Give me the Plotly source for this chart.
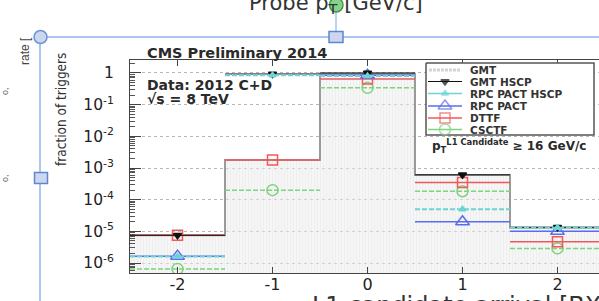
import plotly.graph_objects as go

W, H = 599, 301

# ---------------- data ----------------
bx = [-2, -1, 0, 1, 2]
bin_half = 0.5
gmt = [7.5e-6, 1.8e-3, 0.95, 6.0e-4, 1.3e-5]
gmt_hscp = [7.5e-6, 0.93, 1.0, 6.1e-4, 1.35e-5]
rpc_pact_hscp = [1.6e-6, 0.85, 0.8, 5.0e-5, 1.3e-5]
rpc_pact = [1.65e-6, None, 0.85, 2.0e-5, 1.0e-5]
dttf = [7.5e-6, 1.8e-3, 0.65, 3.5e-4, 4.7e-6]
csctf = [6.5e-7, 2.0e-4, 0.34, 1.85e-4, 2.9e-6]

xtick_vals = [-2, -1, 0, 1, 2]
xtick_text = ["-2", "-1", "0", "1", "2"]
ytick_vals = [1, 1e-1, 1e-2, 1e-3, 1e-4, 1e-5, 1e-6]
ytick_text = ["1", "10<sup>-1</sup>", "10<sup>-2</sup>", "10<sup>-3</sup>",
              "10<sup>-4</sup>", "10<sup>-5</sup>", "10<sup>-6</sup>"]
minor_vals = [m * 10.0 ** e for e in range(-7, 1) for m in range(2, 10)]

legend_names = ["GMT", "GMT HSCP", "RPC PACT HSCP", "RPC PACT", "DTTF", "CSCTF"]

# ---------------- styles ----------------
RED = "#ee5a5a"
BLUE = "#5a6cf0"
GREEN = "#7ed47e"
CYAN = "#6cd4d4"
BLACK = "#111111"
GRAY = "#9a9a9a"

series = [
    # name, values, color, symbol, size, dash, width
    ("CSCTF", csctf, GREEN, "circle-open", 11, "5px,2px", 1.5),
    ("DTTF", dttf, RED, "square-open", 10, "solid", 1.5),
    ("RPC PACT", rpc_pact, BLUE, "triangle-up-open", 12, "solid", 1.5),
    ("GMT HSCP", gmt_hscp, BLACK, "triangle-down", 7, "solid", 1),
    ("RPC PACT HSCP", rpc_pact_hscp, CYAN, "triangle-up", 6, "5px,2px", 2),
]

fig = go.Figure()

# GMT filled histogram
fig.add_trace(go.Bar(
    x=bx, y=gmt, width=2 * bin_half, xaxis="x", yaxis="y",
    marker=dict(color="rgba(228,228,228,0.55)", line=dict(width=0),
                pattern=dict(shape="|", size=3, solidity=0.15,
                             fgcolor="rgba(195,195,195,0.7)",
                             bgcolor="rgba(238,238,238,0.5)", fillmode="overlay")),
    showlegend=False, hoverinfo="skip"))
edges = [c - bin_half for c in bx] + [bx[-1] + bin_half]
fig.add_trace(go.Scatter(
    x=edges, y=gmt + [gmt[-1]], mode="lines", line=dict(color=GRAY, width=2, shape="hv"),
    xaxis="x", yaxis="y", showlegend=False, hoverinfo="skip"))

for name, vals, col, sym, size, dash, lw in series:
    sx, sy = [], []
    mx, my = [], []
    for c, v in zip(bx, vals):
        if v is None:
            continue
        sx += [c - bin_half, c + bin_half, None]
        sy += [v, v, None]
        mx.append(c)
        my.append(v)
    fig.add_trace(go.Scatter(x=sx, y=sy, mode="lines", line=dict(color=col, width=lw, dash=dash),
                             xaxis="x", yaxis="y", showlegend=False, hoverinfo="skip"))
    fig.add_trace(go.Scatter(x=mx, y=my, mode="markers",
                             marker=dict(symbol=sym, size=size, color=col,
                                         line=dict(color=col, width=1.5)),
                             xaxis="x", yaxis="y", showlegend=False, hoverinfo="skip"))

# ---------------- legend box (overlay pixel axes) ----------------
fig.add_trace(go.Scatter(x=[426, 594, 594, 426, 426], y=[63, 63, 135, 135, 63],
                         mode="lines", fill="toself", fillcolor="white",
                         line=dict(color="#555", width=1.5),
                         xaxis="x2", yaxis="y2", showlegend=False, hoverinfo="skip"))
rows = [70, 81.5, 93.5, 106, 118, 129.5]
leg_style = {
    "GMT HSCP": (BLACK, "triangle-down", 7, "solid", 1),
    "RPC PACT HSCP": (CYAN, "triangle-up", 6, "solid", 1.5),
    "RPC PACT": (BLUE, "triangle-up-open", 12, "solid", 1.5),
    "DTTF": (RED, "square-open", 10, "solid", 1.5),
    "CSCTF": (GREEN, "circle-open", 11, "solid", 1.5),
}
for name, ry in zip(legend_names, rows):
    if name == "GMT":
        fig.add_trace(go.Scatter(x=[429, 461], y=[ry, ry], mode="lines",
                                 line=dict(color="#d4d4d4", width=3, dash="3px,1px"),
                                 xaxis="x2", yaxis="y2", showlegend=False, hoverinfo="skip"))
        continue
    col, sym, size, dash, lw = leg_style[name]
    fig.add_trace(go.Scatter(x=[428, 445, 462], y=[ry, ry, ry], mode="lines+markers",
                             line=dict(color=col, width=lw),
                             marker=dict(symbol=sym, size=[0, size, 0], color=col,
                                         line=dict(color=col, width=1.5)),
                             xaxis="x2", yaxis="y2", showlegend=False, hoverinfo="skip"))

ann = []
for name, ry in zip(legend_names, rows):
    ann.append(dict(x=468, y=ry, text="<b>%s</b>" % name, xanchor="left", yanchor="middle",
                    font=dict(family="DejaVu Sans", size=10.5, color="#333")))

def txt(x, y, t, size, family="DejaVu Sans", color="#333", xa="left", angle=0, ya="middle"):
    return dict(x=x, y=y, text=t, xanchor=xa, yanchor=ya, textangle=angle,
                font=dict(family=family, size=size, color=color))

ann += [
    txt(145, 53, "<b>CMS Preliminary 2014</b>", 14.5, color="#2a2a2a"),
    txt(145, 85, "<b>Data: 2012 C+D</b>", 14, color="#2a2a2a"),
    txt(145, 99, "<b>√s = 8 TeV</b>", 14, color="#2a2a2a"),
    txt(430, 146, "<b>p<sub>T</sub><sup>L1 Candidate</sup> ≥ 16 GeV/c</b>", 12, color="#2a2a2a"),
    txt(61, 110, "fraction of triggers", 13.5,
        family="Liberation Sans Narrow, DejaVu Sans Condensed, Liberation Sans",
        color="#333", xa="center", angle=-90),
    txt(25, 51, "rate [", 12, family="Liberation Sans", color="#444", xa="center", angle=-90),
    txt(247, 4, "Probe p<sub>T</sub> [GeV/c]", 21, color="#333"),
    txt(310, 290, "L1 candidate arrival [BX]", 24, color="#333", ya="top"),
    txt(5, 91, "o,", 9, family="Liberation Sans", color="#666", xa="center", angle=-90),
    txt(5, 178, "o,", 9, family="Liberation Sans", color="#666", xa="center", angle=-90),
]
for a in ann:
    a.update(xref="x2", yref="y2", showarrow=False)

# ---------------- editor overlay handles ----------------
HB = "#8fb3ee"
shapes = [
    dict(type="line", x0=40, x1=W, y0=37, y1=37, line=dict(color=HB, width=1.5)),
    dict(type="line", x0=40, x1=40, y0=37, y1=H, line=dict(color=HB, width=1.5)),
    dict(type="line", x0=336, x1=336, y0=8, y1=37, line=dict(color="#7fa3df", width=1)),
    dict(type="circle", x0=34, x1=47, y0=30.5, y1=43.5, fillcolor="#cad7ee",
         line=dict(color="#6d93d6", width=1.5)),
    dict(type="rect", x0=34.5, x1=47.5, y0=172.5, y1=183.5, fillcolor="#cad7ee",
         line=dict(color="#5f86cf", width=1.5)),
    dict(type="rect", x0=329, x1=343, y0=31.5, y1=42.5, fillcolor="#cad7ee",
         line=dict(color="#5f86cf", width=1.5)),
    dict(type="circle", x0=329.5, x1=343, y0=-2, y1=12, fillcolor="#86d28c",
         line=dict(color="#3f9a4a", width=1.5)),
]
for s in shapes:
    s.update(xref="x2", yref="y2", layer="above")

fig.update_layout(
    width=W, height=H, margin=dict(l=0, r=0, t=0, b=0),
    paper_bgcolor="white", plot_bgcolor="rgba(0,0,0,0)",
    showlegend=False, bargap=0,
    xaxis=dict(domain=[130 / W, 1], range=[-2.5, -2.5 + (W - 130) / 95.0], anchor="y",
               tickvals=xtick_vals, ticktext=xtick_text, ticks="inside", ticklen=6,
               tickcolor="#444", showline=True, linecolor="#444", linewidth=1,
               mirror="ticks", showgrid=False, zeroline=False, automargin=False,
               ticklabelstandoff=-3,
               tickfont=dict(family="DejaVu Sans", size=16, color="#222")),
    yaxis=dict(type="log", domain=[1 - 273 / H, 1 - 60 / H], range=[-6.315, 0.41], anchor="x",
               tickvals=ytick_vals, ticktext=ytick_text, ticks="inside", ticklen=11,
               tickcolor="#444", showline=True, linecolor="#444", linewidth=1,
               mirror=False, showgrid=True, gridcolor="#b8b8b8", griddash="3px,3px",
               gridwidth=1, zeroline=False, automargin=False, ticklabelstandoff=12,
               minor=dict(tickmode="array", tickvals=minor_vals, ticks="inside", ticklen=5,
                          tickcolor="#555", showgrid=False),
               tickfont=dict(family="DejaVu Sans", size=15.5, color="#222")),
    xaxis2=dict(domain=[0, 1], range=[0, W], anchor="y2", visible=False, fixedrange=True),
    yaxis2=dict(domain=[0, 1], range=[H, 0], anchor="x2", visible=False, fixedrange=True),
    annotations=ann, shapes=shapes,
)

fig.write_html("out.html", config={"displayModeBar": False, "staticPlot": True},
               post_script="document.body.style.margin='0';document.body.style.padding='0';"
                           "document.documentElement.style.overflow='hidden';")
